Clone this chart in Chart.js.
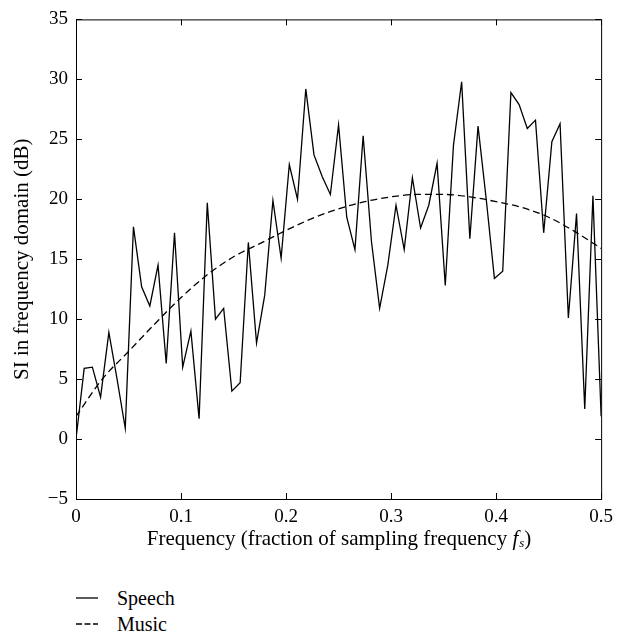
<!DOCTYPE html>
<html>
<head>
<meta charset="utf-8">
<script src="https://cdn.jsdelivr.net/npm/chart.js@4.4.1/dist/chart.umd.min.js"></script>
<style>
    html, body { margin: 0; padding: 0; background: #fff; }
    #wrap { position: relative; width: 620px; height: 634px; }
    #chart { position: absolute; left: 0; top: 0; }
    #legend {
        position: absolute; left: 76px; top: 585px;
        font-family: 'Liberation Serif', serif; font-size: 20px; color: #000;
    }
    .legend-row { display: flex; align-items: center; height: 26px; }
    .legend-row svg { margin-right: 19px; }
</style>
</head>
<body>
<div id="wrap">
    <canvas id="chart" width="620" height="560"></canvas>
    <div id="legend"></div>
</div>
<script>
// bins of a 128-point spectrum, 0 .. fs/2
const speechFreq = [
    0, 0.0078, 0.0156, 0.0234, 0.0313, 0.0391, 0.0469, 0.0547, 0.0625, 0.0703,
    0.0781, 0.0859, 0.0938, 0.1016, 0.1094, 0.1172, 0.125, 0.1328, 0.1406, 0.1484,
    0.1563, 0.1641, 0.1719, 0.1797, 0.1875, 0.1953, 0.2031, 0.2109, 0.2188, 0.2266,
    0.2344, 0.2422, 0.25, 0.2578, 0.2656, 0.2734, 0.2813, 0.2891, 0.2969, 0.3047,
    0.3125, 0.3203, 0.3281, 0.3359, 0.3438, 0.3516, 0.3594, 0.3672, 0.375, 0.3828,
    0.3906, 0.3984, 0.4063, 0.4141, 0.4219, 0.4297, 0.4375, 0.4453, 0.4531, 0.4609,
    0.4688, 0.4766, 0.4844, 0.4922, 0.5
];
const speechSI = [
    0, 5.9, 6.0, 3.5, 8.9, 5.0, 0.9, 17.7, 12.7, 11.1,
    14.5, 6.3, 17.2, 6.0, 9.0, 1.7, 19.7, 10.0, 10.9, 4.0,
    4.7, 16.4, 8.0, 12.0, 19.9, 15.1, 22.9, 20.0, 29.2, 23.7,
    21.9, 20.4, 26.2, 18.5, 15.8, 25.3, 16.5, 10.9, 14.5, 19.5,
    15.8, 21.8, 17.6, 19.5, 23.0, 12.8, 24.5, 29.8, 16.7, 26.1,
    20.0, 13.4, 14.0, 28.9, 27.9, 25.9, 26.6, 17.2, 24.8, 26.3,
    10.1, 18.8, 2.5, 20.3, 1.9
];
const musicFreq = [
    0, 0.025, 0.05, 0.075, 0.1, 0.125, 0.15, 0.175, 0.2, 0.225,
    0.25, 0.275, 0.3, 0.325, 0.35, 0.375, 0.4, 0.425, 0.45, 0.475, 0.5
];
const musicSI = [
    1.9, 5.0, 7.3, 9.6, 11.8, 13.7, 15.2, 16.3, 17.4, 18.4,
    19.2, 19.8, 20.2, 20.4, 20.4, 20.2, 19.8, 19.3, 18.5, 17.3, 15.9
];

const FONT = "'Liberation Serif', serif";
const TICK_FONT_SIZE = 19;
const TITLE_FONT_SIZE = 21;
const TICK_LEN = 6;

const toPoints = (xs, ys) => xs.map((x, i) => ({ x, y: ys[i] }));

// box around the plot with inward ticks on all four sides
const frameTicks = {
    id: 'frameTicks',
    afterDraw(chart) {
        const { ctx, chartArea: a, scales } = chart;
        ctx.save();
        ctx.strokeStyle = '#000';
        ctx.lineWidth = 1;
        ctx.strokeRect(a.left + 0.5, a.top + 0.5, a.right - a.left, a.bottom - a.top);
        ctx.beginPath();
        scales.x.ticks.forEach((t) => {
            const px = Math.round(scales.x.getPixelForValue(t.value)) + 0.5;
            ctx.moveTo(px, a.bottom); ctx.lineTo(px, a.bottom - TICK_LEN);
            ctx.moveTo(px, a.top); ctx.lineTo(px, a.top + TICK_LEN);
        });
        scales.y.ticks.forEach((t) => {
            const py = Math.round(scales.y.getPixelForValue(t.value)) + 0.5;
            ctx.moveTo(a.left, py); ctx.lineTo(a.left + TICK_LEN, py);
            ctx.moveTo(a.right, py); ctx.lineTo(a.right - TICK_LEN, py);
        });
        ctx.stroke();
        ctx.restore();
    }
};

// x title needs an italic f with subscript s, so it is drawn in pieces
const xTitle = {
    id: 'xTitle',
    afterDraw(chart) {
        const { ctx, chartArea: a } = chart;
        const y = 539;
        const parts = [
            { text: 'Frequency (fraction of sampling frequency ', font: `${TITLE_FONT_SIZE}px ${FONT}`, dy: 0 },
            { text: 'f', font: `italic ${TITLE_FONT_SIZE}px ${FONT}`, dy: 0 },
            { text: 's', font: `italic 13px ${FONT}`, dy: 5 },
            { text: ')', font: `${TITLE_FONT_SIZE}px ${FONT}`, dy: 0 }
        ];
        ctx.save();
        ctx.fillStyle = '#000';
        ctx.textBaseline = 'middle';
        ctx.textAlign = 'left';
        let total = 0;
        parts.forEach((p) => { ctx.font = p.font; p.w = ctx.measureText(p.text).width; total += p.w; });
        let x = (a.left + a.right) / 2 - total / 2;
        parts.forEach((p) => {
            ctx.font = p.font;
            ctx.fillText(p.text, x, y + p.dy);
            x += p.w + (p.text === 'f' ? 1 : 0);
        });
        ctx.restore();
    }
};

const chart = new Chart(document.getElementById('chart'), {
    type: 'line',
    data: {
        datasets: [
            {
                label: 'Speech',
                data: toPoints(speechFreq, speechSI),
                borderColor: '#000',
                borderWidth: 1.3,
                pointRadius: 0,
                tension: 0,
                fill: false
            },
            {
                label: 'Music',
                data: toPoints(musicFreq, musicSI),
                borderColor: '#000',
                borderWidth: 1.3,
                borderDash: [7, 4],
                pointRadius: 0,
                cubicInterpolationMode: 'monotone',
                fill: false
            }
        ]
    },
    options: {
        responsive: false,
        animation: false,
        layout: { padding: { top: 18, right: 14, left: 0, bottom: 0 } },
        plugins: {
            legend: { display: false },
            tooltip: { enabled: false }
        },
        scales: {
            x: {
                type: 'linear',
                min: 0,
                max: 0.5,
                grid: { display: false, drawTicks: false },
                border: { display: false },
                ticks: {
                    stepSize: 0.1,
                    padding: 7,
                    color: '#000',
                    font: { family: FONT, size: TICK_FONT_SIZE },
                    maxRotation: 0
                },
                afterFit: (scale) => { scale.height = 61; }
            },
            y: {
                min: -5,
                max: 35,
                grid: { display: false, drawTicks: false },
                border: { display: false },
                title: {
                    display: true,
                    text: 'SI in frequency domain (dB)',
                    color: '#000',
                    font: { family: FONT, size: TITLE_FONT_SIZE },
                    padding: { top: 10, bottom: 0 }
                },
                ticks: {
                    stepSize: 5,
                    padding: 8,
                    color: '#000',
                    font: { family: FONT, size: TICK_FONT_SIZE },
                    callback: (v) => (v < 0 ? '\u2212' + Math.abs(v) : String(v))
                },
                afterFit: (scale) => { scale.width = 76; }
            }
        }
    },
    plugins: [frameTicks, xTitle]
});

// legend stacked under the chart, built from the datasets
const legendEl = document.getElementById('legend');
chart.data.datasets.forEach((ds) => {
    const row = document.createElement('div');
    row.className = 'legend-row';
    const dash = ds.borderDash ? '6,2.5' : 'none';
    row.innerHTML =
        `<svg width="22" height="4"><line x1="0" y1="2" x2="22" y2="2" stroke="#000" stroke-width="1.3" stroke-dasharray="${dash}"/></svg>` +
        `<span>${ds.label}</span>`;
    legendEl.appendChild(row);
});
</script>
</body>
</html>
